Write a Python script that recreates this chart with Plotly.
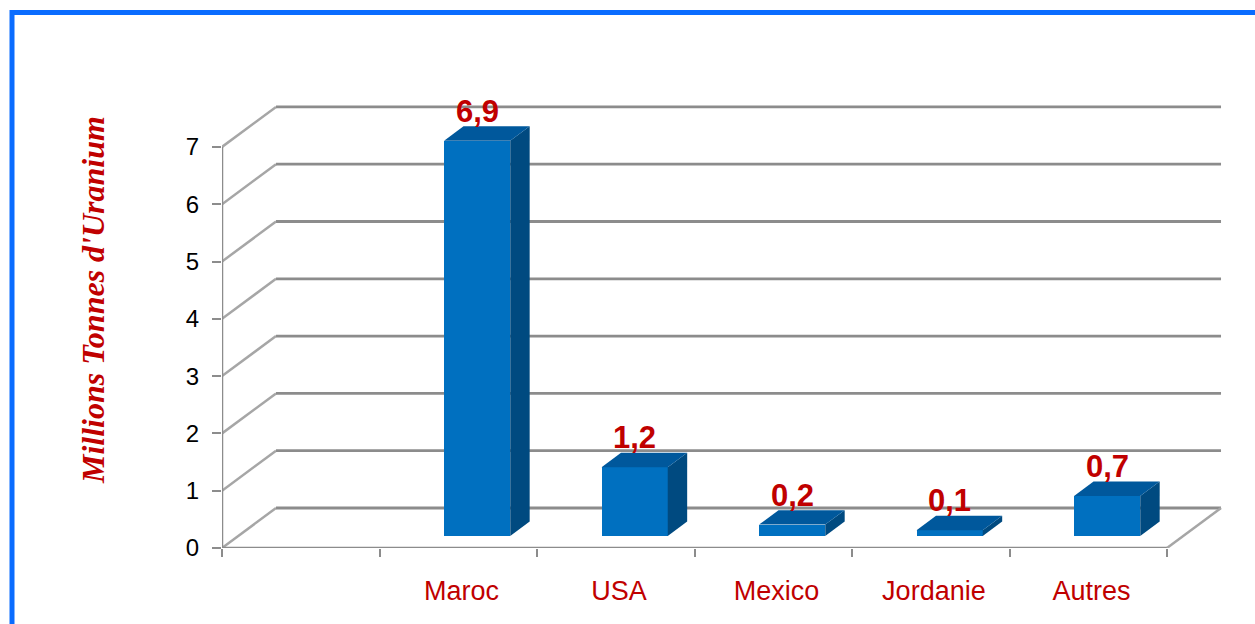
import plotly.graph_objects as go

# ---- data ----
categories = ["", "Maroc", "USA", "Mexico", "Jordanie", "Autres"]
values = [None, 6.9, 1.2, 0.2, 0.1, 0.7]
value_labels = ["", "6,9", "1,2", "0,2", "0,1", "0,7"]
y_ticks = [0, 1, 2, 3, 4, 5, 6, 7]
y_title = "Millions Tonnes d'Uranium"

# ---- style / projection ----
DX, DY = 0.343, 0.698          # depth offset of back wall (data units)
F0 = 0.30                      # bar front depth fraction
FD = 0.36                      # bar depth fraction
BAR_W = 0.42
XSHIFT = 0.12
RED = "#c00000"
GRID = "#8c8c8c"
n = len(categories)
x_lo, x_hi = -0.5, n - 0.5

L, R, T, B = 222, 30, 104, 76
W, H = 1255 - L - R, 624 - T - B
x_range = [x_lo, x_lo + W / 157.5]
y_range = [0, H / 57.3]

fig = go.Figure()

shapes = []
# back-wall gridlines with left diagonals
for v in y_ticks:
    shapes.append(dict(type="line", xref="x", yref="y", x0=x_lo, y0=v, x1=x_lo + DX, y1=v + DY,
                       line=dict(color="#a6a6a6", width=2.5), layer="below"))
    shapes.append(dict(type="line", xref="x", yref="y", x0=x_lo + DX, y0=v + DY, x1=x_hi + DX, y1=v + DY,
                       line=dict(color=GRID, width=2.8), layer="below"))
# floor front edge + right diagonal
shapes.append(dict(type="line", xref="x", yref="y", x0=x_lo, y0=0, x1=x_hi, y1=0,
                   line=dict(color=GRID, width=2.5), layer="below"))
shapes.append(dict(type="line", xref="x", yref="y", x0=x_hi, y0=0, x1=x_hi + DX, y1=DY,
                   line=dict(color="#a6a6a6", width=2.5), layer="below"))
# y axis line
shapes.append(dict(type="line", xref="x", yref="y", x0=x_lo, y0=0, x1=x_lo, y1=max(y_ticks),
                   line=dict(color=GRID, width=2.5), layer="below"))
# blue frame
px2x = lambda px: (px - L) / W
px2y = lambda py: (624 - B - py) / H
shapes.append(dict(type="rect", xref="paper", yref="paper",
                   x0=px2x(12), y0=px2y(660), x1=px2x(1300), y1=px2y(12.5),
                   line=dict(color="#0a6cff", width=5), fillcolor="rgba(0,0,0,0)", layer="above"))

xs, ys, bases = [], [], []
for i, v in enumerate(values):
    if v is None:
        continue
    xs.append(i + XSHIFT)
    ys.append(v)
    bases.append(F0 * DY)

fig.add_trace(go.Bar(x=xs, y=ys, base=bases, width=BAR_W,
                     marker=dict(color="#0070c0", line=dict(width=0)),
                     hoverinfo="skip", showlegend=False))

ddx, ddy = FD * DX, FD * DY
annotations = []
for i, v in enumerate(values):
    if v is None:
        continue
    xc = i + XSHIFT
    xl, xr = xc - BAR_W / 2, xc + BAR_W / 2
    b = F0 * DY
    top = v + b
    # side face
    fig.add_trace(go.Scatter(x=[xr, xr, xr + ddx, xr + ddx, xr], y=[b, top, top + ddy, b + ddy, b],
                             fill="toself", fillcolor="#004a80", mode="lines",
                             line=dict(width=0, color="#004a80"), hoverinfo="skip", showlegend=False))
    # top face
    fig.add_trace(go.Scatter(x=[xl, xr, xr + ddx, xl + ddx, xl], y=[top, top, top + ddy, top + ddy, top],
                             fill="toself", fillcolor="#00589c", mode="lines",
                             line=dict(width=0, color="#00589c"), hoverinfo="skip", showlegend=False))
    annotations.append(dict(x=xc, y=top + ddy, xref="x", yref="y", text="<b>%s</b>" % value_labels[i],
                            showarrow=False, yanchor="middle", yshift=15,
                            font=dict(family="Liberation Sans, Arial", size=31, color=RED)))

annotations.append(dict(x=px2x(93), y=px2y(300), xref="paper", yref="paper",
                        text="<b><i>%s</i></b>" % y_title, textangle=-90, showarrow=False,
                        xanchor="center", yanchor="middle",
                        font=dict(family="Liberation Serif, Times New Roman", size=32, color=RED)))

fig.update_layout(
    width=1255, height=624,
    margin=dict(l=L, r=R, t=T, b=B),
    paper_bgcolor="white", plot_bgcolor="white",
    shapes=shapes, annotations=annotations,
    bargap=0,
    xaxis=dict(range=x_range, showgrid=False, zeroline=False, showline=False,
               tickmode="array", tickvals=[i + 0.02 for i in range(1, n)], ticktext=categories[1:],
               ticks="", ticklabelstandoff=24,
               tickfont=dict(family="Liberation Sans, Arial", size=27, color=RED),
               minor=dict(tickmode="linear", tick0=x_lo, dtick=1, ticks="outside",
                          ticklen=8, tickwidth=2, tickcolor=GRID, showgrid=False)),
    yaxis=dict(range=y_range, showgrid=False, zeroline=False, showline=False,
               tickmode="array", tickvals=y_ticks, ticktext=[str(t) for t in y_ticks],
               ticks="outside", ticklen=9, tickwidth=2, tickcolor=GRID, ticklabelstandoff=8,
               tickfont=dict(family="Liberation Sans, Arial", size=24, color="black")),
)

fig.write_html("out.html")
